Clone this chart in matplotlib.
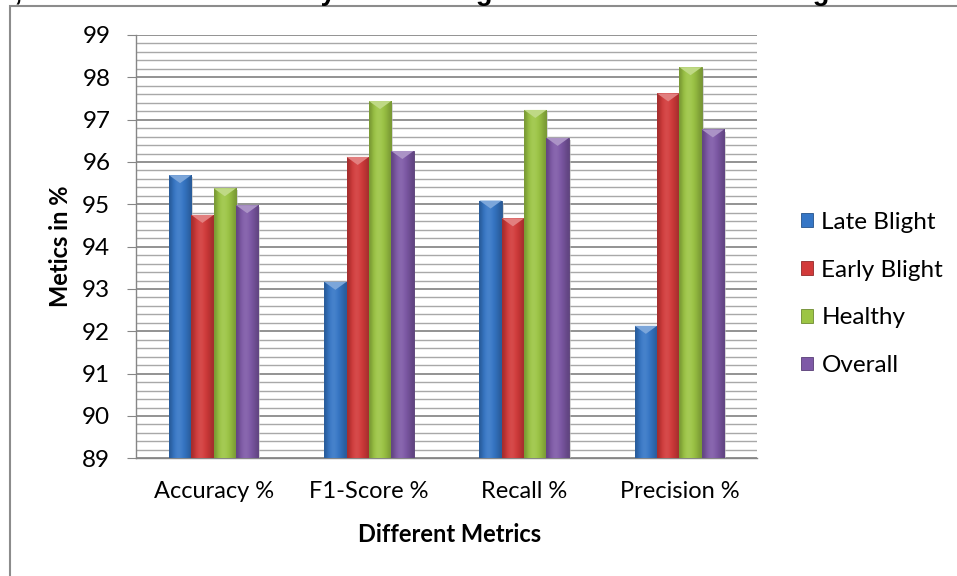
import matplotlib.pyplot as plt
import numpy as np
from matplotlib.patches import Polygon, Rectangle, Patch
from matplotlib.ticker import MultipleLocator

metrics = ["Accuracy %", "F1-Score %", "Recall %", "Precision %"]
classes = ["Late Blight", "Early Blight", "Healthy", "Overall"]

late_blight = [95.69, 93.17, 95.09, 92.13]
early_blight = [94.75, 96.12, 94.67, 97.62]
healthy = [95.38, 97.44, 97.23, 98.24]
overall = [94.98, 96.26, 96.57, 96.77]

series = [late_blight, early_blight, healthy, overall]
colors = ["#3576c6", "#d23a3a", "#9cc544", "#7e59a7"]

title = "Recall, Precision and Accuracy for Training and Validation for Testing and Validation"
y_title = "Metics in %"
x_title = "Different Metrics"

font = ["Lato", "DejaVu Sans"]
plt.rcParams["font.family"] = font

W, H = 957, 576
fig = plt.figure(figsize=(W / 100, H / 100), dpi=100)

# plot area in pixels: x 136..757, y 35..458
ax = fig.add_axes([136 / W, 1 - 458.3 / H, (757 - 136) / W, (458.3 - 35) / H])

bar_w = 0.144
x = np.arange(len(metrics))


def shade(c, f):
    c = np.array(plt.matplotlib.colors.to_rgb(c))
    if f >= 1:
        return tuple(c + (1 - c) * (f - 1))
    return tuple(c * f)


grad = np.array([0.78, 0.95, 1.06, 1.1, 1.04, 0.96, 0.88, 0.78])

for i, (vals, col) in enumerate(zip(series, colors)):
    pos = x + (i - 1.5) * bar_w
    bars = ax.bar(pos, vals, bar_w, color=col, edgecolor=shade(col, 0.7),
                  linewidth=0.6, zorder=3)
    for b, v in zip(bars, vals):
        x0 = b.get_x()
        x1 = x0 + b.get_width()
        img = np.array([[shade(col, f) for f in grad]])
        im = ax.imshow(img, extent=(x0, x1, 89, v), aspect="auto",
                       interpolation="bicubic", zorder=3.5)
        im.set_clip_path(b)
        d = 0.19
        ax.add_patch(Polygon([(x0, v), (x1, v), ((x0 + x1) / 2, v - d)],
                             closed=True, facecolor=shade(col, 1.35),
                             edgecolor="none", zorder=4))
        # soft shadow to the right
        ax.add_patch(Rectangle((x1, 89), 0.012, v - 89 - 0.05,
                               facecolor="#bdbdbd", edgecolor="none",
                               alpha=0.6, zorder=2.9))

ax.set_xlim(-0.5, len(metrics) - 0.5)
ax.set_ylim(89, 99)
ax.yaxis.set_major_locator(MultipleLocator(1))
ax.yaxis.set_minor_locator(MultipleLocator(0.2))
ax.grid(which="major", axis="y", color="#808080", linewidth=1.2, zorder=0)
ax.grid(which="minor", axis="y", color="#a8a8a8", linewidth=1.0, zorder=0)
ax.set_axisbelow(True)

for s in ["top", "right"]:
    ax.spines[s].set_visible(False)
for s in ["left", "bottom"]:
    ax.spines[s].set_color("#868686")
    ax.spines[s].set_linewidth(1.0)

ax.set_xticks(x)
ax.set_xticklabels(metrics)
ax.tick_params(axis="x", length=0, labelsize=17, pad=16)
ax.tick_params(axis="y", which="major", direction="out", length=6.5,
               color="#868686", labelsize=17.5, pad=12)
ax.tick_params(axis="y", which="minor", length=0)

fig.text(61 / W, 1 - 246.6 / H, y_title, rotation=90, ha="center", va="center",
         fontsize=17, fontweight="bold")
fig.text(450 / W, 1 - 534 / H, x_title, ha="center", va="center",
         fontsize=17, fontweight="bold")

# title partly cut off at the top edge, as in the source image
fig.text(478 / W, 1 + 0.5 / H, title, ha="center", va="baseline",
         fontsize=19.5, fontweight="bold", family="Liberation Sans")

# outer chart border
fig.add_artist(Rectangle((10 / W, -0.1), 1.2, 1.1 - 6 / H, transform=fig.transFigure,
                         fill=False, edgecolor="#8c8c8c", linewidth=1.5))

handles = [Patch(facecolor=c, edgecolor=shade(c, 0.7), linewidth=0.6) for c in colors]
fig.legend(handles, classes, loc="center left", bbox_to_anchor=(791 / W, 1 - 294 / H),
           frameon=False, fontsize=17.5, handlelength=0.5, handleheight=0.5,
           handletextpad=0.35, labelspacing=1.1, borderaxespad=0)

fig.savefig("out.png", dpi=100)
